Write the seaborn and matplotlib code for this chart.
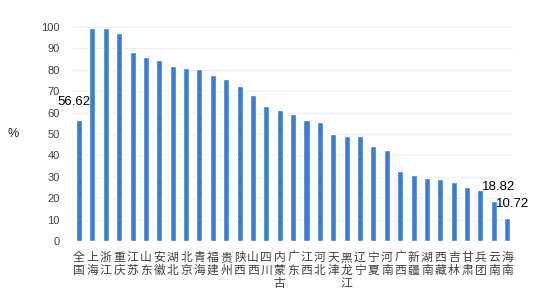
import matplotlib
matplotlib.use("Agg")
import matplotlib.pyplot as plt
import seaborn as sns
import pandas as pd

regions = ["全国", "上海", "浙江", "重庆", "江苏", "山东", "安徽", "湖北", "北京", "青海",
           "福建", "贵州", "陕西", "山西", "四川", "内蒙古", "广东", "江西", "河北", "天津",
           "黑龙江", "辽宁", "宁夏", "河南", "广西", "新疆", "湖南", "西藏", "吉林", "甘肃",
           "兵团", "云南", "海南"]
values = [56.62, 99.5, 99.5, 97.2, 88.3, 86.0, 84.6, 81.9, 81.0, 80.5,
          77.7, 75.5, 72.4, 68.3, 63.3, 61.2, 59.3, 56.6, 55.7, 50.2,
          49.3, 49.3, 44.5, 42.6, 32.8, 30.9, 29.5, 29.0, 27.6, 25.4,
          24.0, 18.82, 10.72]
labelled = {"全国": "56.62", "云南": "18.82", "海南": "10.72"}
yticks = list(range(0, 101, 10))

sns.set_theme(style="white")
plt.rcParams['font.family'] = ['Liberation Sans', 'Noto Sans CJK SC', 'DejaVu Sans']

df = pd.DataFrame({"region": regions, "value": values})

fig = plt.figure(figsize=(5.52, 2.97), dpi=100)
ax = fig.add_axes([0.131, 0.1886, 0.80, 0.7204])
sns.barplot(data=df, x="region", y="value", color="#3b7dd3", saturation=1,
            width=0.45, ax=ax, zorder=3)

ax.set_ylim(0, 100)
ax.set_xlim(-0.5, len(regions) - 0.5)
ax.set_yticks(yticks)
ax.set_yticklabels([str(v) for v in yticks], fontsize=8, color="#404040")
ax.set_xticks(range(len(regions)))
ax.set_xticklabels(["\n".join(r) for r in regions], fontsize=8.5, color="#404040",
                   linespacing=1.1, va="top")
ax.tick_params(axis="y", length=0, pad=9)
ax.tick_params(axis="x", length=0, pad=8)
for s in ax.spines.values():
    s.set_visible(False)
ax.yaxis.grid(True, color="#f0f0f0", lw=0.8, zorder=0)
ax.set_axisbelow(True)
ax.set_xlabel("")
ax.set_ylabel("%", rotation=0, fontsize=9, color="#222222", labelpad=20, va="center")

offsets = {"全国": (-5, 18), "云南": (5, 14), "海南": (5, 14)}
for i, (r, v) in enumerate(zip(regions, values)):
    if r in labelled:
        ax.annotate(labelled[r], xy=(i, v), xytext=offsets[r], textcoords="offset pixels",
                    ha="center", va="center", fontsize=9.5, color="black")

fig.savefig("out.png", dpi=100)
